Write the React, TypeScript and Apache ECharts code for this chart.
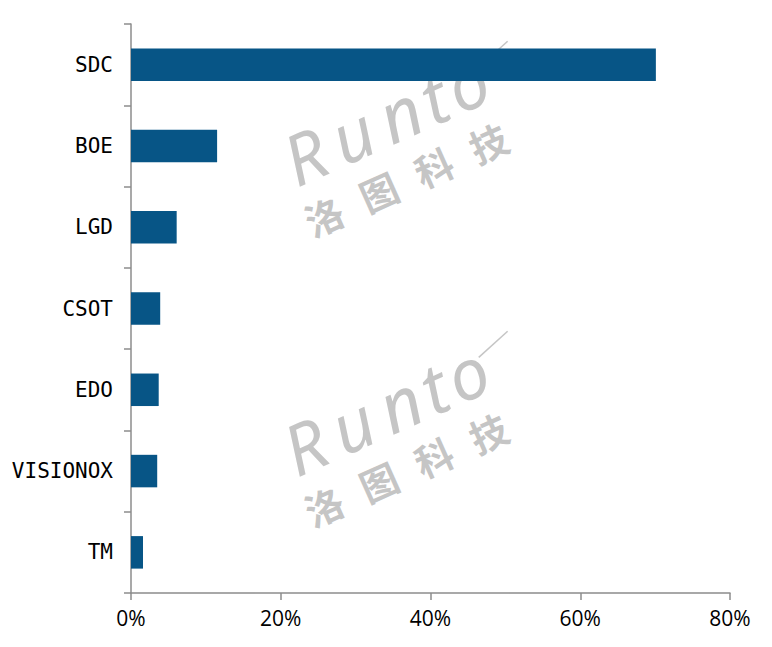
import React, { useEffect, useRef } from "react";
import * as echarts from "echarts";

const categories = ["SDC", "BOE", "LGD", "CSOT", "EDO", "VISIONOX", "TM"];
const shares = [70.1, 11.5, 6.1, 3.9, 3.7, 3.5, 1.6];
const xTicks = [0, 20, 40, 60, 80];

const wmLetters = ["R", "u", "n", "t", "o"];
const wmLetterPos = [10, 62, 114, 160, 188];
const wmChars = ["洛", "图", "科", "技"];
const wmCharPos = [0, 60, 120, 180];

function watermark(x: number, y: number) {
  const color = "rgba(140,140,140,0.5)";
  const children: any[] = [];
  wmLetters.forEach((l, i) => {
    children.push({
      type: "text",
      x: wmLetterPos[i],
      y: 8,
      style: {
        text: l,
        font: "italic 70px 'Noto Sans'",
        fill: color,
        textVerticalAlign: "bottom",
        textAlign: "left",
      },
    });
  });
  wmChars.forEach((c, i) => {
    children.push({
      type: "text",
      x: wmCharPos[i] + 4,
      y: 36,
      style: {
        text: c,
        font: "bold 38px 'Noto Sans CJK SC'",
        fill: color,
        textVerticalAlign: "middle",
        textAlign: "left",
      },
    });
  });
  children.push({
    type: "line",
    shape: { x1: 225, y1: -36, x2: 262, y2: -48 },
    style: { stroke: color, lineWidth: 1.5 },
  });
  return {
    type: "group",
    x,
    y,
    rotation: 0.42,
    silent: true,
    z: 10,
    children,
  };
}

export default function App() {
  const ref = useRef<HTMLDivElement>(null);
  useEffect(() => {
    if (!ref.current) return;
    const chart = echarts.init(ref.current, null, { renderer: "svg" });
    chart.setOption({
      animation: false,
      backgroundColor: "#ffffff",
      grid: { left: 131, right: 42, top: 24, bottom: 54, containLabel: false },
      xAxis: {
        type: "value",
        min: 0,
        max: 80,
        interval: 20,
        splitLine: { show: false },
        axisLine: { show: true, lineStyle: { color: "#8c8c8c", width: 1.5 } },
        axisTick: { show: true, length: 7, lineStyle: { color: "#8c8c8c", width: 1.5 } },
        axisLabel: {
          margin: 14,
          color: "#000",
          fontSize: 21,
          fontFamily: "'Open Sans'",
          formatter: (v: number) => (xTicks.includes(v) ? v + "%" : ""),
        },
      },
      yAxis: {
        type: "category",
        data: categories,
        inverse: true,
        axisLine: { show: true, lineStyle: { color: "#8c8c8c", width: 1.5 } },
        axisTick: { show: true, length: 7, lineStyle: { color: "#8c8c8c", width: 1.5 } },
        axisLabel: {
          margin: 18,
          color: "#000",
          fontSize: 21,
          fontFamily: "'DejaVu Sans Mono'",
        },
      },
      series: [
        {
          type: "bar",
          data: shares,
          barWidth: "40%",
          itemStyle: { color: "#075586" },
        },
      ],
      graphic: [watermark(288, 192), watermark(288, 482)],
    });
    return () => chart.dispose();
  }, []);
  return (
    <div
      ref={ref}
      style={{ position: "absolute", left: 0, top: 0, width: 772, height: 647 }}
    />
  );
}
